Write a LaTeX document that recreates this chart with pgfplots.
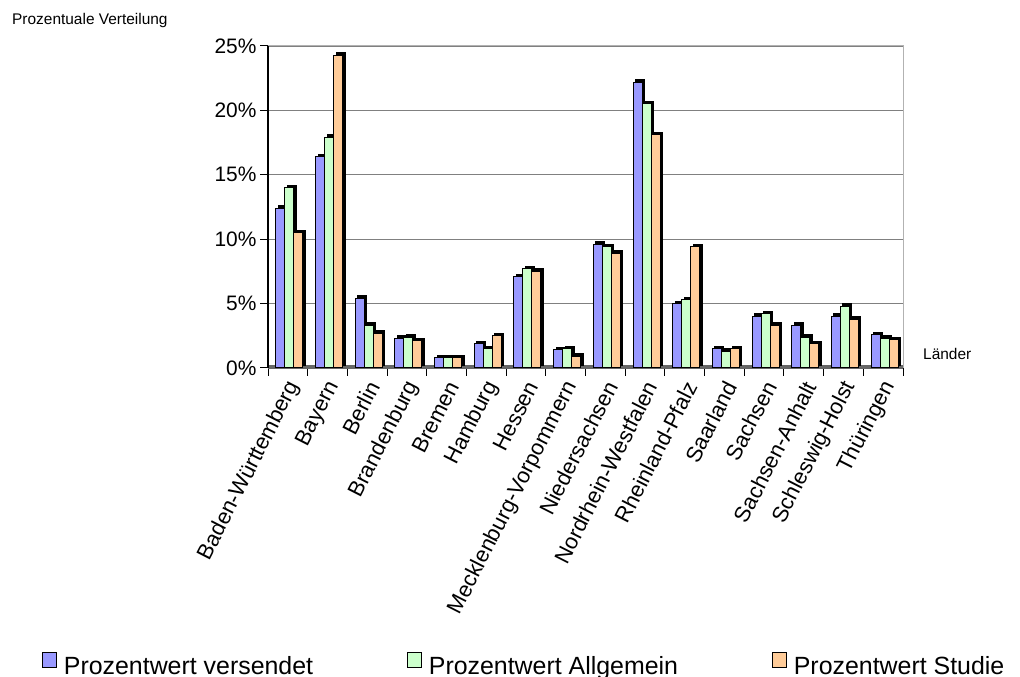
\documentclass[border=0pt]{standalone}
\usepackage{pgfplots}
\pgfplotsset{compat=1.18}
\usepackage{fontspec}
\setmainfont{Liberation Sans}

\definecolor{cblue}{HTML}{9999FF}
\definecolor{cgreen}{HTML}{CCFFCC}
\definecolor{corange}{HTML}{FFCC99}

\tikzset{bar3d/.style={preaction={fill=black, draw=black, transform canvas={shift={(2.5bp,2.5bp)}}}}}

\begin{document}
\begin{tikzpicture}[x=1bp,y=1bp]
\path[use as bounding box] (0,0) rectangle (1020,677);
\node[anchor=base west, inner sep=0pt, font=\fontsize{15.5}{18}\selectfont] at (12,652) {Prozentuale Verteilung};
\node[anchor=base west, inner sep=0pt, font=\fontsize{15.5}{18}\selectfont] at (923,317) {Länder};
\begin{axis}[
    at={(268bp,309bp)}, anchor=south west,
    scale only axis, width=635bp, height=322bp,
    ybar, bar width=9bp,
    xmin=-0.5, xmax=15.5, ymin=0, ymax=25,
    xtick={-0.5,0.5,...,15.5}, xticklabels={},
    extra x ticks={0,1,...,15},
    extra x tick labels={Baden-Württemberg,Bayern,Berlin,Brandenburg,Bremen,Hamburg,Hessen,Mecklenburg-Vorpommern,Niedersachsen,Nordrhein-Westfalen,Rheinland-Pfalz,Saarland,Sachsen,Sachsen-Anhalt,Schleswig-Holst,Thüringen},
    extra x tick style={major tick length=0pt, grid=none,
        xticklabel style={xshift=7bp, yshift=-14bp, rotate=63, anchor=east, inner sep=1bp,
        font=\fontsize{22}{26}\selectfont}},
    ytick={0,5,...,25},
    yticklabel={\pgfmathprintnumber{\tick}\%},
    yticklabel style={font=\fontsize{21}{25}\selectfont},
    /pgf/number format/assume math mode=true,
    xtick pos=bottom, ytick pos=left,
    tick align=outside, major tick length=8bp,
    tick style={black, line width=1bp},
    ymajorgrids, grid style={gray, line width=1.2bp},
    axis line style={gray!60, line width=1bp},
    legend columns=3,
    legend cell align=left,
    legend style={at={(-0.356,-0.962)}, anchor=south west, draw=none, fill=none,
        inner sep=0pt, font=\fontsize{25}{29}\selectfont,
        /tikz/every odd column/.append style={column sep=5bp},
        /tikz/every even column/.append style={column sep=92bp}},
    clip=false,
]
\draw[gray!80!black, line width=4bp] (axis cs:-0.5,0.08) -- (axis cs:15.5,0.08);

\addplot[fill=cblue, draw=black, line width=1bp, bar3d, bar shift=-7.5bp, forget plot] coordinates {
    (0,12.4) (1,16.4) (2,5.4) (3,2.3) (4,0.8) (5,1.9) (6,7.1) (7,1.4)
    (8,9.6) (9,22.2) (10,5.0) (11,1.5) (12,4.0) (13,3.3) (14,4.0) (15,2.6)
};
\addplot[fill=cgreen, draw=black, line width=1bp, bar3d, bar shift=1.5bp, forget plot] coordinates {
    (0,14.0) (1,17.9) (2,3.3) (3,2.4) (4,0.8) (5,1.5) (6,7.7) (7,1.5)
    (8,9.4) (9,20.5) (10,5.3) (11,1.3) (12,4.2) (13,2.4) (14,4.8) (15,2.3)
};
\addplot[fill=corange, draw=black, line width=1bp, bar3d, bar shift=10.5bp, forget plot] coordinates {
    (0,10.5) (1,24.3) (2,2.7) (3,2.1) (4,0.8) (5,2.5) (6,7.5) (7,0.9)
    (8,8.9) (9,18.1) (10,9.4) (11,1.5) (12,3.3) (13,1.9) (14,3.8) (15,2.2)
};

\draw[black, line width=1.2bp] (rel axis cs:0,0) -- (rel axis cs:0,1);

\addlegendimage{legend image code/.code={\draw[fill=cblue, draw=black, line width=0.8bp] (0bp,-2bp) rectangle (14bp,13bp);}}
\addlegendimage{legend image code/.code={\draw[fill=cgreen, draw=black, line width=0.8bp] (0bp,-2bp) rectangle (14bp,13bp);}}
\addlegendimage{legend image code/.code={\draw[fill=corange, draw=black, line width=0.8bp] (0bp,-2bp) rectangle (14bp,13bp);}}
\legend{Prozentwert versendet,Prozentwert Allgemein,Prozentwert Studie}
\end{axis}
\end{tikzpicture}
\end{document}
